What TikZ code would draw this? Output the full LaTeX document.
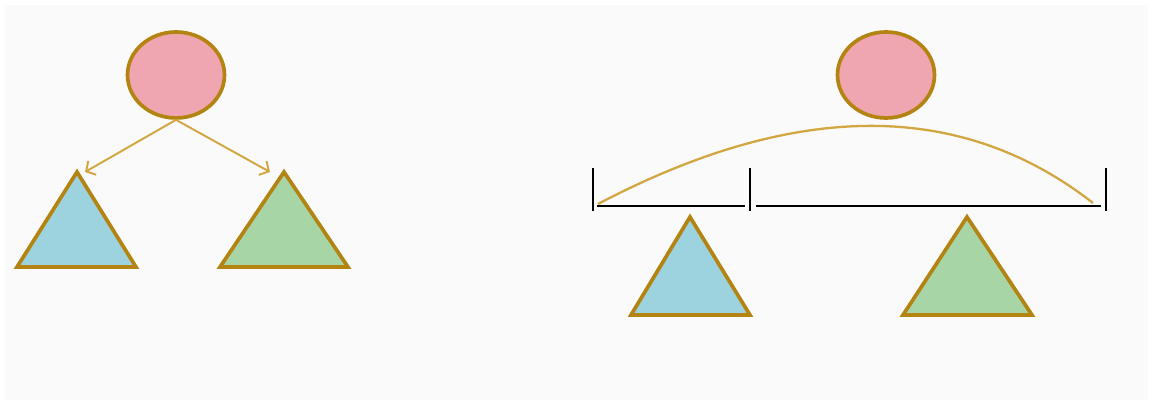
\documentclass[tikz,border=0pt]{standalone}
\usepackage{tikz}
\usetikzlibrary{shapes.geometric,arrows.meta}
\definecolor{gold}{HTML}{B38412}
\definecolor{goldlight}{HTML}{D2A641}
\definecolor{rootpink}{HTML}{EFA6B0}
\definecolor{leafblue}{HTML}{9DD2DF}
\definecolor{leafgreen}{HTML}{A7D5A6}
\definecolor{bgpaper}{HTML}{FAFAFA}

\begin{document}
\begin{tikzpicture}[
  x=0.02cm, y=-0.02cm,
  rootnode/.style={ellipse, draw=gold, fill=rootpink, line width=2.1pt,
    minimum width=1.94cm, minimum height=1.72cm, inner sep=0pt},
  leafblue/.style={draw=gold, fill=leafblue, line width=2.1pt, line join=miter},
  leafgreen/.style={draw=gold, fill=leafgreen, line width=2.1pt, line join=miter},
  edge/.style={draw=goldlight, line width=1.1pt, -{Straight Barb[length=4pt,width=9pt]}},
  span/.style={draw=goldlight, line width=1.3pt},
  bar/.style={draw=black, line width=1.4pt},
]
% page
\useasboundingbox (0,0) rectangle (1153,405);
\fill[white] (0,0) rectangle (1153,405);
\fill[bgpaper] (5,5) rectangle (1148,400);

% left: tree with two subtrees
\node[rootnode] (rootL) at (176,75) {};
\draw[leafblue]  (77,172) -- (17,267) -- (136,267) -- cycle;
\draw[leafgreen] (284,172) -- (220,267) -- (348,267) -- cycle;
\coordinate (tipA) at (85,172);
\coordinate (tipB) at (270,172);
\draw[edge] (rootL.south) -- (tipA);
\draw[edge] (rootL.south) -- (tipB);

% right: flattened into one array
\node[rootnode] (rootR) at (886,75) {};
\draw[leafblue]  (690,217) -- (631,315) -- (750,315) -- cycle;
\draw[leafgreen] (967,217) -- (903,315) -- (1032,315) -- cycle;
\foreach \x in {593,750,1106}
  \draw[bar] (\x,168) -- (\x,211);
\draw[bar] (597,206) -- (745,206);
\draw[bar] (756,206) -- (1101,206);
\coordinate (spanL) at (598,204);
\coordinate (spanR) at (1093,203);
\draw[span] (spanL) .. controls (796,100) and (961,100) .. (spanR);
\end{tikzpicture}
\end{document}
